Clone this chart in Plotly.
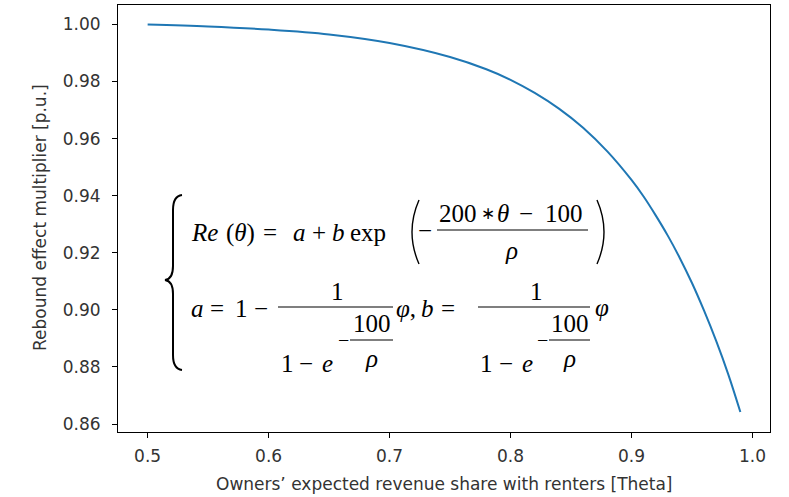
import plotly.graph_objects as go

# ---- data ----
theta = [0.50, 0.55, 0.60, 0.65, 0.70, 0.75, 0.78, 0.80, 0.82, 0.84, 0.86, 0.88,
         0.90, 0.91, 0.92, 0.93, 0.94, 0.95, 0.96, 0.97, 0.98, 0.99]
rebound = [1.0000, 0.9993, 0.9982, 0.9965, 0.9935, 0.9886, 0.9843, 0.9806, 0.9760,
           0.9705, 0.9638, 0.9555, 0.9455, 0.9397, 0.9331, 0.9260, 0.9181, 0.9094,
           0.8997, 0.8891, 0.8774, 0.8642]
x_ticks = [0.5, 0.6, 0.7, 0.8, 0.9, 1.0]
x_tick_labels = ["0.5", "0.6", "0.7", "0.8", "0.9", "1.0"]
y_ticks = [0.86, 0.88, 0.90, 0.92, 0.94, 0.96, 0.98, 1.00]
y_tick_labels = ["0.86", "0.88", "0.90", "0.92", "0.94", "0.96", "0.98", "1.00"]
x_title = "Owners’ expected revenue share with renters [Theta]"
y_title = "Rebound effect multiplier [p.u.]"

W, H = 789, 497
L, R, T, B = 118, 19, 5, 65
PW, PH = W - L - R, H - T - B

def px(x):
    return (x - L) / PW

def py(y):
    return (T + PH - y) / PH

fig = go.Figure()
fig.add_trace(go.Scatter(x=theta, y=rebound, mode="lines", line_shape="spline",
                         line=dict(color="#1f77b4", width=2), showlegend=False,
                         hoverinfo="skip"))

axis_common = dict(showline=True, mirror=True, linecolor="#000", linewidth=1,
                   ticks="outside", ticklen=5, tickwidth=1, tickcolor="#000",
                   showgrid=False, zeroline=False, automargin=False,
                   tickfont=dict(family="DejaVu Sans", size=17, color="#333"))

fig.update_layout(
    width=W, height=H, margin=dict(l=L, r=R, t=T, b=B),
    paper_bgcolor="white", plot_bgcolor="white",
    xaxis=dict(range=[0.4755, 1.0145], tickvals=x_ticks, ticktext=x_tick_labels,
               ticklabelstandoff=4, **axis_common),
    yaxis=dict(range=[0.8572, 1.0068], tickvals=y_ticks, ticktext=y_tick_labels,
               ticklabelstandoff=8, **axis_common),
)

SERIF = "Liberation Serif"
FS = 25
anns = []

def txt(s, x, y, size=FS, anchor="center", family=SERIF, color="#000", angle=0):
    anns.append(dict(text=s, x=px(x), y=py(y), xref="paper", yref="paper",
                     xanchor=anchor, yanchor="middle", showarrow=False,
                     textangle=angle,
                     font=dict(family=family, size=size, color=color)))

# axis titles
txt(x_title, 444, 484, size=17, family="DejaVu Sans", color="#333")
txt(y_title, 40, 218, size=17, family="DejaVu Sans", color="#333", angle=-90)

def bar(x0, x1, y, w=1.2):
    fig.add_shape(type="line", xref="paper", yref="paper",
                  x0=px(x0), x1=px(x1), y0=py(y), y1=py(y),
                  line=dict(color="#000", width=w))

def path(points_cmds, w=1.4):
    s = ""
    for cmd, pts in points_cmds:
        s += cmd + " " + " ".join(f"{px(a):.5f},{py(b):.5f}" for a, b in pts) + " "
    fig.add_shape(type="path", xref="paper", yref="paper", path=s.strip(),
                  line=dict(color="#000", width=w))

# left brace
path([("M", [(182, 195)]), ("Q", [(173, 196), (173, 210)]), ("L", [(173, 266)]),
      ("Q", [(173, 279), (165, 280)]), ("Q", [(173, 281), (173, 294)]),
      ("L", [(173, 355)]), ("Q", [(173, 369), (182, 370)])], w=2)

# line 1
Y1 = 233
txt("<i>Re</i>", 204, Y1)
txt("(<i>θ</i>)", 240, Y1)
txt("=", 270, Y1)
txt("<i>a</i>", 299, Y1)
txt("+", 319, Y1)
txt("<i>b</i>", 338, Y1)
txt("exp", 368, Y1)
path([("M", [(419, 200)]), ("Q", [(405, 232), (419, 264)])], w=1.4)
txt("−", 425, 231)
txt("200", 458, 213)
txt("<span style='font-size:17px'>∗</span>", 488, 213)
txt("<i>θ</i>", 503, 213)
txt("−", 526, 213)
txt("100", 564, 213)
bar(437, 588, 230)
txt("<i>ρ</i>", 512, 250)
path([("M", [(597, 200)]), ("Q", [(611, 232), (597, 264)])], w=1.4)

# line 2
Y2 = 308
txt("<i>a</i>", 197, Y2)
txt("=", 217, Y2)
txt("1", 241, Y2)
txt("−", 261, Y2)
txt("<i>φ</i>,", 406, Y2)
txt("<i>b</i>", 427, Y2)
txt("=", 448, Y2)
txt("<i>φ</i>", 602, Y2 - 1)
for (x0, x1, ex0, ex1) in [(278, 393, 350, 393), (478, 590, 549, 590)]:
    txt("1", (x0 + x1) / 2 + 2, 291)
    bar(x0, x1, 307)
    txt("1", x0 + 9, 363)
    txt("−", x0 + 28, 363)
    txt("<i>e</i>", x0 + 49, 363)
    txt("−", ex0 - 7, 340, size=20)
    txt("100", (ex0 + ex1) / 2, 323)
    bar(ex0, ex1, 340)
    txt("<i>ρ</i>", (ex0 + ex1) / 2, 358)

fig.update_layout(annotations=anns)
fig.write_html("out.html")
